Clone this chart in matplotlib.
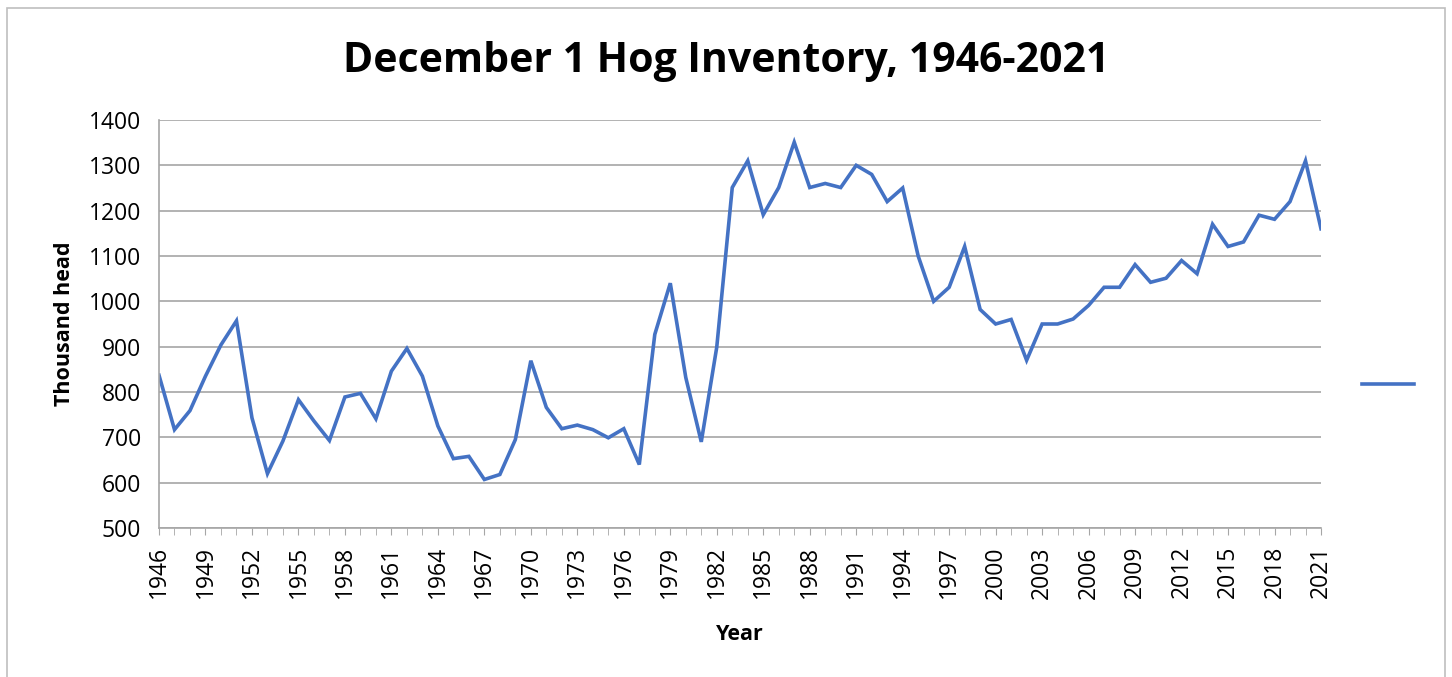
import matplotlib.pyplot as plt
from matplotlib.lines import Line2D
from matplotlib.patches import Rectangle

years = list(range(1946, 2022))
inventory = [
    837, 717, 759, 835, 904, 957, 743, 620, 692, 783,
    736, 693, 789, 797, 741, 846, 896, 835, 725, 653,
    658, 607, 618, 695, 869, 766, 719, 727, 717, 699,
    719, 640, 927, 1040, 832, 690, 899, 1251, 1310, 1191,
    1251, 1351, 1251, 1260, 1251, 1300, 1280, 1220, 1250, 1100,
    1000, 1031, 1121, 982, 950, 960, 870, 950, 950, 961,
    991, 1031, 1031, 1081, 1042, 1051, 1090, 1061, 1170, 1121,
    1131, 1190, 1181, 1220, 1310, 1160,
]
yticks = list(range(500, 1401, 100))
xlabels = years[::3]

plt.rcParams['font.family'] = ['Open Sans', 'DejaVu Sans']

fig = plt.figure(figsize=(14.52, 6.77), dpi=100)
ax = fig.add_axes([159 / 1452, 1 - 528 / 677, (1321 - 159) / 1452, (528 - 120) / 677])

ax.plot(years, inventory, color='#4472C4', linewidth=2.6, solid_joinstyle='miter')

ax.set_xlim(1946, 2021)
ax.set_ylim(500, 1400)
ax.set_yticks(yticks)
ax.tick_params(axis='y', length=0, labelsize=16.5, pad=13)
ax.set_xticks(xlabels)
ax.set_xticks(years, minor=True)
ax.set_xticklabels([str(y) for y in xlabels], rotation=90)
ax.tick_params(axis='x', which='both', length=5, color='#a6a6a6', labelsize=16.5, pad=8)
ax.grid(axis='y', color='#a6a6a6', linewidth=1.2)
ax.set_axisbelow(True)
for s in ['top', 'right']:
    ax.spines[s].set_visible(False)
for s in ['left', 'bottom']:
    ax.spines[s].set_color('#a6a6a6')
    ax.spines[s].set_linewidth(1.2)

ax.set_ylabel('Thousand head', fontsize=15.5, fontweight='bold', labelpad=10)
ax.set_xlabel('Year', fontsize=15.5, fontweight='bold', labelpad=18)

fig.text(726 / 1452, 1 - 62 / 677, 'December 1 Hog Inventory, 1946-2021',
         ha='center', va='center', fontsize=29.5, fontweight='bold')

# legend marker without label
fig.add_artist(Line2D([1362 / 1452, 1414 / 1452], [1 - 384 / 677, 1 - 384 / 677],
                      color='#4472C4', linewidth=2.6))

# chart border
fig.add_artist(Rectangle((7 / 1452, -0.01), (1445 - 7) / 1452, 1.01 - 8 / 677,
                         fill=False, edgecolor='#bfbfbf', linewidth=1.2,
                         transform=fig.transFigure))

fig.savefig('out.png', dpi=100)
